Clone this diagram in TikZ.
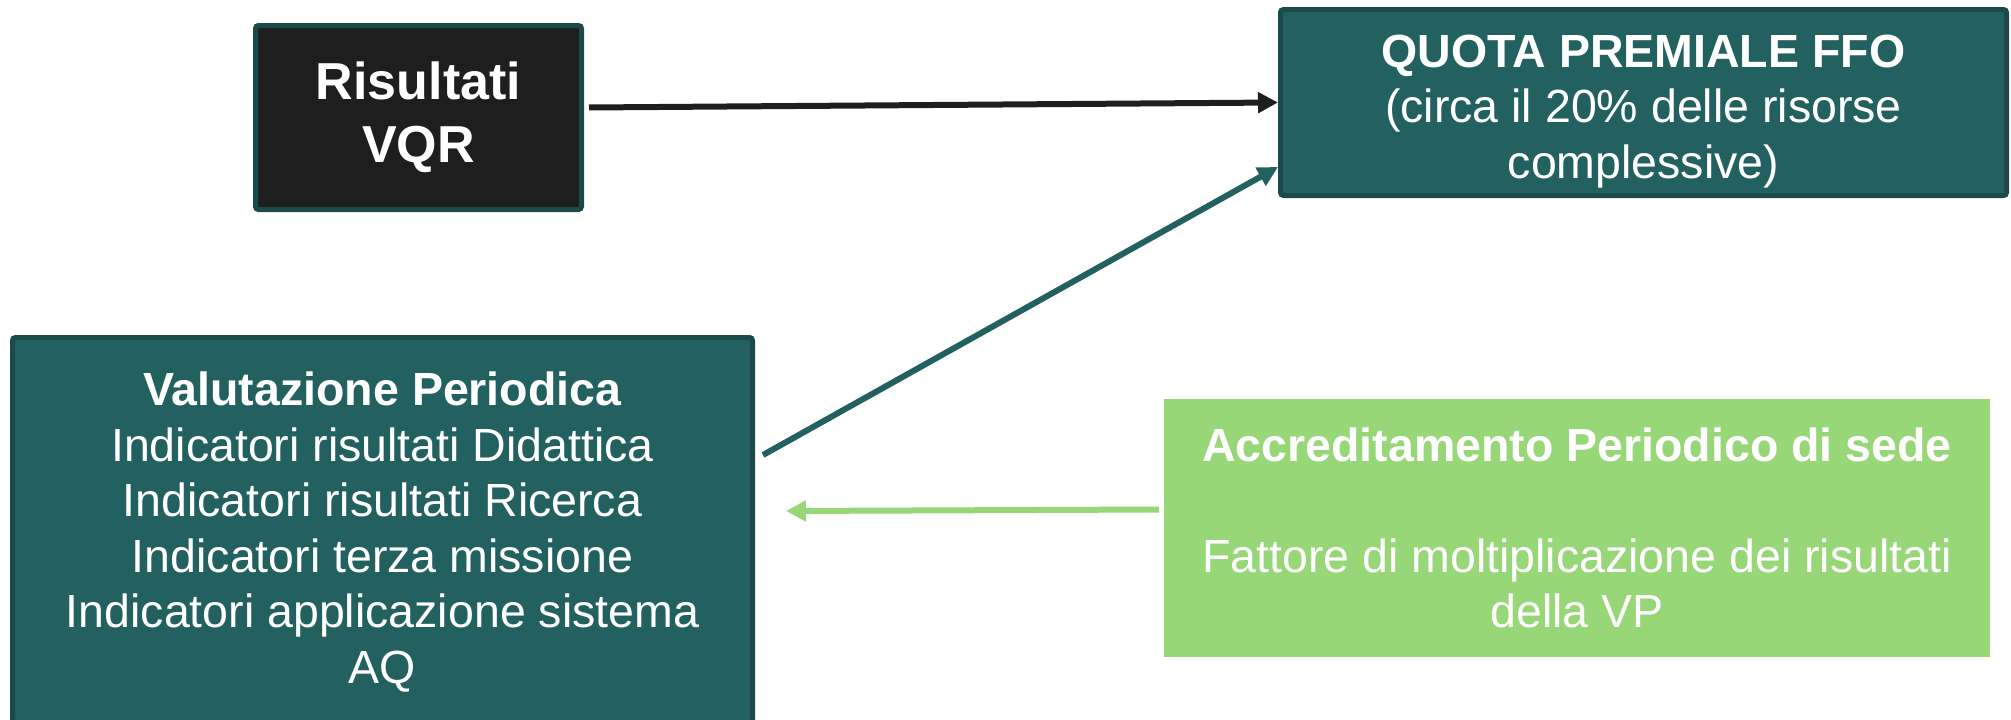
\documentclass[tikz,border=0pt]{standalone}
\usepackage{fontspec}
\setmainfont{Liberation Sans}
\usepackage{tikz}
\usetikzlibrary{shapes, arrows.meta}
\definecolor{vqrblack}{HTML}{1E1E1E}
\definecolor{tealfill}{HTML}{236161}
\definecolor{tealedge}{HTML}{1B4A48}
\definecolor{apgreen}{HTML}{97D777}
\tikzstyle{vqrbox}   = [rectangle, draw=tealedge, line width=5pt, rounded corners=3pt, fill=vqrblack, text=white, align=center, font=\fontsize{52}{63}\selectfont\bfseries]
\tikzstyle{tealbox}  = [rectangle, draw=tealedge, line width=5pt, rounded corners=3pt, fill=tealfill, text=white, align=center, font=\fontsize{46.5}{55.5}\selectfont]
\tikzstyle{greenbox} = [rectangle, fill=apgreen, text=white, align=center, font=\fontsize{46.5}{55.5}\selectfont]
\tikzstyle{darkarrow}  = [draw=vqrblack, line width=6pt, -{Triangle[length=20pt, width=20pt]}]
\tikzstyle{tealarrow}  = [draw=tealfill, line width=6pt, -{Triangle[length=20pt, width=20pt]}]
\tikzstyle{greenarrow} = [draw=apgreen, line width=6pt, -{Triangle[length=20pt, width=20pt]}]

\begin{document}
\begin{tikzpicture}[x=1pt, y=-1pt]
    \useasboundingbox (0,0) rectangle (2011,720);
    \clip (0,0) rectangle (2011,720);
    \node[vqrbox, minimum width=326pt, minimum height=184pt] (vqr) at (418.5,117.5) {Risultati\\VQR};
    \node[tealbox, minimum width=726pt, minimum height=186pt] (quota) at (1643.5,102.5)
        {\rule{0pt}{50pt}\textbf{QUOTA PREMIALE FFO}\\(circa il 20\% delle risorse\\complessive)};
    \node[tealbox, minimum width=740pt, minimum height=385pt] (vp) at (382.5,530)
        {\rule{0pt}{38pt}\textbf{Valutazione Periodica}\\Indicatori risultati Didattica\\Indicatori risultati Ricerca\\Indicatori terza missione\\Indicatori applicazione sistema\\AQ};
    \node[greenbox, minimum width=826pt, minimum height=258pt] (ap) at (1577,528)
        {\textbf{Accreditamento Periodico di sede}\\[55.5pt]Fattore di moltiplicazione dei risultati\\della VP};
    \path[darkarrow] ([xshift=5pt, yshift=10pt]vqr.east) -- (quota.west);
    \path[tealarrow] ([xshift=8pt, yshift=75pt]vp.east) -- ([yshift=31pt]quota.south west);
    \path[greenarrow] ([xshift=-5pt, yshift=18.5pt]ap.west) -- ([xshift=31pt, yshift=19pt]vp.east);
\end{tikzpicture}
\end{document}
